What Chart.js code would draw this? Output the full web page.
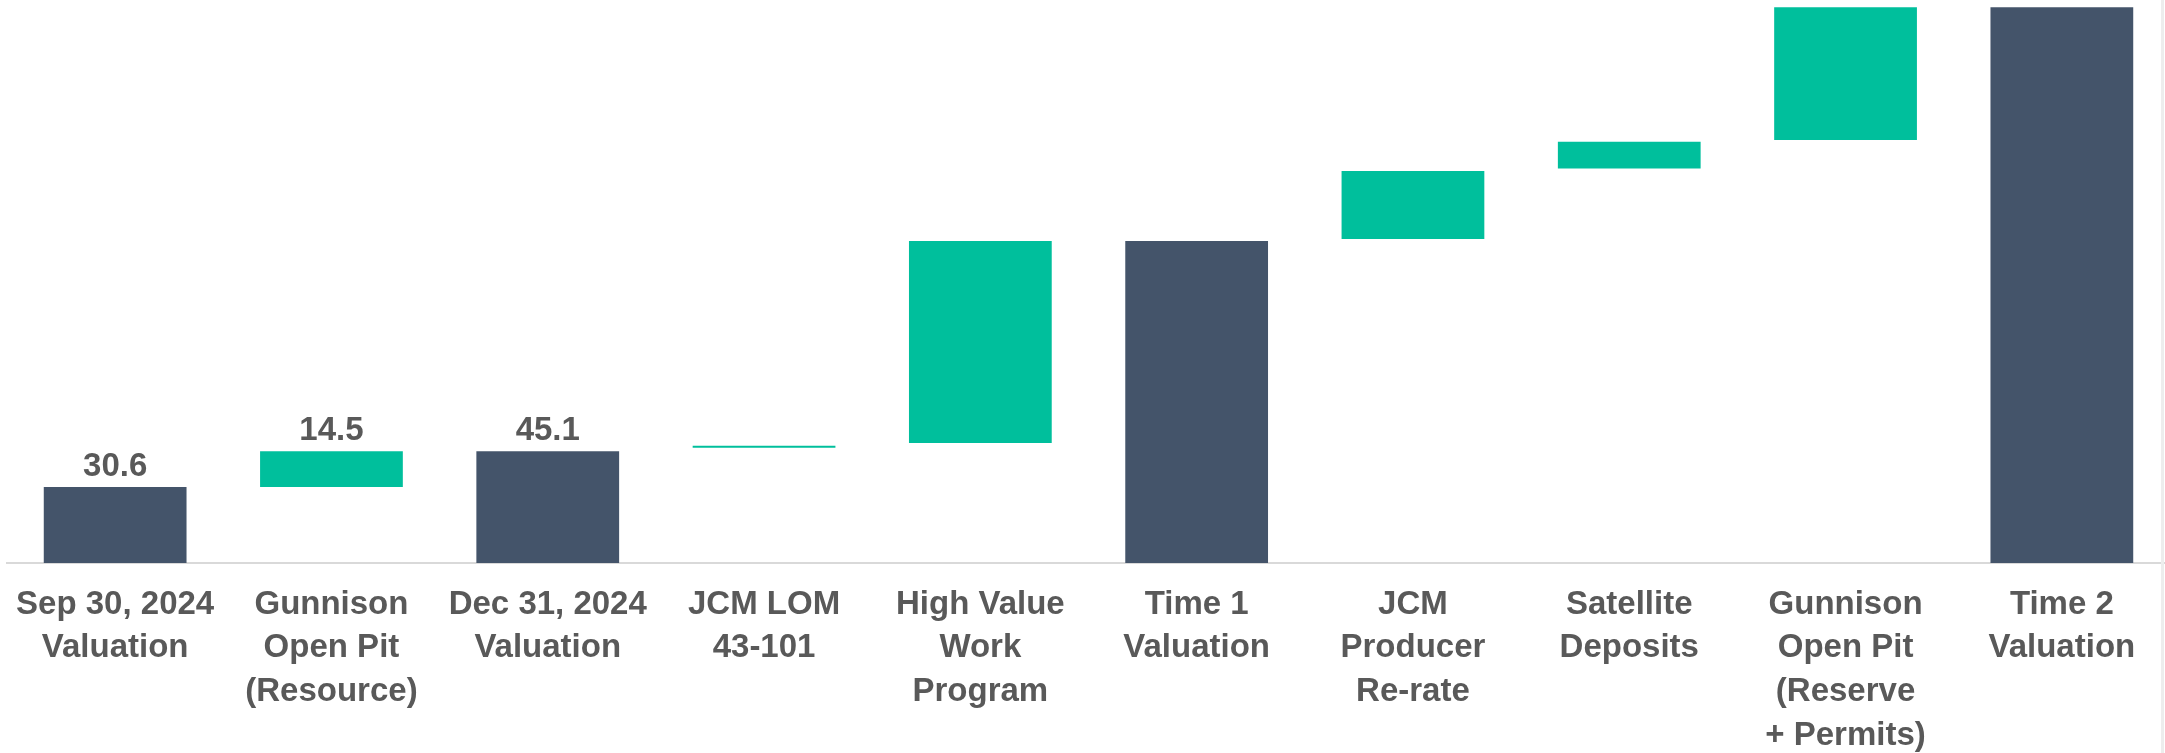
<!DOCTYPE html>
<html>
<head>
<meta charset="utf-8">
<script src="https://cdn.jsdelivr.net/npm/chart.js@4.4.1/dist/chart.umd.min.js"></script>
<style>
  html, body { margin: 0; padding: 0; background: #fff; overflow: hidden; }
  #wrap { position: relative; width: 2170px; height: 753px; }
  #edge { position: absolute; left: 2161px; top: 0; width: 3px; height: 753px; background: #ededed; }
</style>
</head>
<body>
<div id="wrap"><canvas id="waterfallChart" width="2170" height="753"></canvas></div>
<div id="edge"></div>
<script>
// categorie (etichette su più righe)
const categories = [
  ["Sep 30, 2024", "Valuation"],
  ["Gunnison", "Open Pit", "(Resource)"],
  ["Dec 31, 2024", "Valuation"],
  ["JCM LOM", "43-101"],
  ["High Value", "Work", "Program"],
  ["Time 1", "Valuation"],
  ["JCM", "Producer", "Re-rate"],
  ["Satellite", "Deposits"],
  ["Gunnison", "Open Pit", "(Reserve", "+ Permits)"],
  ["Time 2", "Valuation"],
];

// base invisibile + incremento
const bases   = [0, 30.6, 0, 46.5, 48.4, 0, 130.6, 159.1, 170.6, 0];
const amounts = [30.6, 14.5, 45.1, 0.8, 81.4, 129.8, 27.5, 10.7, 53.5, 224.1];
const isTotal = [true, false, true, false, false, true, false, false, false, true];
const valueLabels = ["30.6", "14.5", "45.1", "", "", "", "", "", "", ""];

const TOTAL_COLOR = "#44546A";
const STEP_COLOR = "#00BF9C";
const TEXT_COLOR = "#595959";
const FONT = "'Liberation Sans', Arial, sans-serif";

// etichette valore sopra le barre
const valueLabelPlugin = {
  id: "valueLabels",
  afterDatasetsDraw(chart) {
    const ctx = chart.ctx;
    const meta = chart.getDatasetMeta(0);
    ctx.save();
    ctx.font = `bold 33px ${FONT}`;
    ctx.fillStyle = TEXT_COLOR;
    ctx.textAlign = "center";
    ctx.textBaseline = "alphabetic";
    meta.data.forEach((bar, i) => {
      if (!valueLabels[i]) return;
      ctx.fillText(valueLabels[i], bar.x, bar.y - 11);
    });
    ctx.restore();
  },
};

new Chart(document.getElementById("waterfallChart"), {
  type: "bar",
  data: {
    labels: categories,
    datasets: [{
      data: bases.map((b, i) => [b, b + amounts[i]]),
      backgroundColor: isTotal.map((t) => (t ? TOTAL_COLOR : STEP_COLOR)),
      borderWidth: 0,
      barPercentage: 0.66,
      categoryPercentage: 1,
    }],
  },
  options: {
    responsive: false,
    animation: false,
    devicePixelRatio: 1,
    layout: { padding: { left: 7, right: 0, top: 0, bottom: 0 } },
    plugins: {
      legend: { display: false },
      tooltip: { enabled: false },
    },
    scales: {
      x: {
        grid: { display: false, drawTicks: false },
        border: { display: true, color: "#d9d9d9", width: 2 },
        ticks: {
          color: TEXT_COLOR,
          font: { family: FONT, size: 33, weight: "bold", lineHeight: 1.32 },
          maxRotation: 0,
          autoSkip: false,
          padding: 20,
        },
        afterFit: (axis) => {
          axis.height = 190;
          // niente spazio extra ai lati per le etichette
          axis.paddingLeft = 0;
          axis.paddingRight = 0;
        },
      },
      y: {
        display: false,
        min: 0,
        max: 227,
      },
    },
  },
  plugins: [valueLabelPlugin],
});
</script>
</body>
</html>
